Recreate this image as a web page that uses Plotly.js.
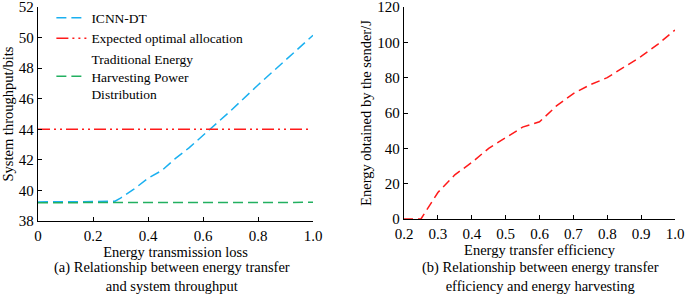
<!DOCTYPE html>
<html>
<head>
<meta charset="utf-8">
<script src="https://cdn.plot.ly/plotly-3.0.1.min.js"></script>
<style>html,body{margin:0;padding:0;background:#fff;}#chart{width:685px;height:295px;}</style>
</head>
<body>
<div id="chart"></div>
<script>
// Panel (a)
const lossX = [0, 0.1, 0.2, 0.28, 0.3, 0.35, 0.4, 0.45, 0.5, 0.55, 0.6, 0.7, 0.8, 0.9, 1.0];
const icnnY = [39.25, 39.25, 39.27, 39.3, 39.5, 40.1, 40.8, 41.3, 42.1, 42.8, 43.6, 45.2, 46.9, 48.5, 50.15];
const optX = [0, 0.99];
const optY = [44, 44];
const tradX = [0, 1.0];
const tradY = [39.2, 39.22];
// Panel (b)
const effX = [0.2, 0.23, 0.25, 0.3, 0.35, 0.4, 0.45, 0.5, 0.55, 0.6, 0.65, 0.7, 0.75, 0.8, 0.85, 0.9, 0.95, 1.0];
const energyY = [0, 0, 0, 15, 25, 32, 40, 46, 52, 55, 64, 71, 76, 80, 86, 92, 99, 107];

const names = ['ICNN-DT', 'Expected optimal allocation', 'Traditional Energy<br>Harvesting Power<br>Distribution'];
const xTicksA = [0, 0.2, 0.4, 0.6, 0.8, 1.0];
const xTickTextA = ['0', '0.2', '0.4', '0.6', '0.8', '1.0'];
const yTicksA = [38, 40, 42, 44, 46, 48, 50, 52];
const xTicksB = [0.2, 0.3, 0.4, 0.5, 0.6, 0.7, 0.8, 0.9, 1.0];
const xTickTextB = ['0.2', '0.3', '0.4', '0.5', '0.6', '0.7', '0.8', '0.9', '1.0'];
const yTicksB = [0, 20, 40, 60, 80, 100, 120];

const FONT = 'Liberation Serif, Times New Roman, serif';
const TXT = 14.5;

const traces = [
  {x: lossX, y: icnnY, name: names[0], mode: 'lines', xaxis: 'x', yaxis: 'y',
   line: {color: '#1ab0f0', width: 1.5, dash: '10px,5px'}},
  {x: optX, y: optY, name: names[1], mode: 'lines', xaxis: 'x', yaxis: 'y',
   line: {color: '#ff1a1a', width: 1.5, dash: '12px,4px,2px,4px,2px,4px'}},
  {x: tradX, y: tradY, name: names[2], mode: 'lines', xaxis: 'x', yaxis: 'y',
   line: {color: '#22b060', width: 1.5, dash: '10px,5px'}},
  {x: effX, y: energyY, name: 'Energy', mode: 'lines', xaxis: 'x2', yaxis: 'y2', showlegend: false,
   line: {color: '#ff1a1a', width: 1.5, dash: '9px,5px'}}
];

const axBase = {
  showgrid: false, zeroline: false, showline: true, linecolor: '#000', linewidth: 1.2,
  ticks: 'inside', ticklen: 4, tickcolor: '#000', tickwidth: 1, ticklabeloverflow: 'allow',
  tickfont: {family: FONT, size: 15, color: '#000'}, mirror: false
};

const layout = {
  width: 685, height: 295,
  margin: {l: 0, r: 0, t: 0, b: 0},
  paper_bgcolor: '#fff', plot_bgcolor: '#fff',
  font: {family: FONT, color: '#000'},
  showlegend: true,
  legend: {x: 0.075, y: 0.992, xanchor: 'left', yanchor: 'top', bgcolor: 'rgba(0,0,0,0)',
           font: {family: FONT, size: 13.5, color: '#000'}, tracegroupgap: 0, itemwidth: 30},
  xaxis: Object.assign({}, axBase, {domain: [0.0555, 0.457], range: [0, 1.0], tickvals: xTicksA, ticktext: xTickTextA,
    anchor: 'y', ticklabelstandoff: 1,
    title: {text: 'Energy transmission loss', font: {family: FONT, size: TXT}, standoff: 0}}),
  yaxis: Object.assign({}, axBase, {domain: [0.2508, 0.9763], range: [38, 52], tickvals: yTicksA,
    anchor: 'x', title: {text: 'System throughput/bits', font: {family: FONT, size: TXT}, standoff: 4}}),
  xaxis2: Object.assign({}, axBase, {domain: [0.5898, 0.9854], range: [0.2, 1.0], tickvals: xTicksB, ticktext: xTickTextB,
    anchor: 'y2', ticklabelstandoff: 1,
    title: {text: 'Energy transfer efficiency', font: {family: FONT, size: TXT}, standoff: 0}}),
  yaxis2: Object.assign({}, axBase, {domain: [0.2576, 0.9763], range: [0, 120], tickvals: yTicksB,
    anchor: 'x2', title: {text: 'Energy obtained by the sender/J', font: {family: FONT, size: TXT}, standoff: 2}}),
  annotations: [
    {text: '(a) Relationship between energy transfer<br>and system throughput', xref: 'paper', yref: 'paper',
     x: 172/685, y: 1 - 257/295, xanchor: 'center', yanchor: 'top', showarrow: false,
     font: {family: FONT, size: TXT, color: '#000'}},
    {text: '(b) Relationship between energy transfer<br>efficiency and energy harvesting', xref: 'paper', yref: 'paper',
     x: 540/685, y: 1 - 257/295, xanchor: 'center', yanchor: 'top', showarrow: false,
     font: {family: FONT, size: TXT, color: '#000'}}
  ]
};

Plotly.newPlot('chart', traces, layout, {displayModeBar: false, staticPlot: true});
</script>
</body>
</html>
